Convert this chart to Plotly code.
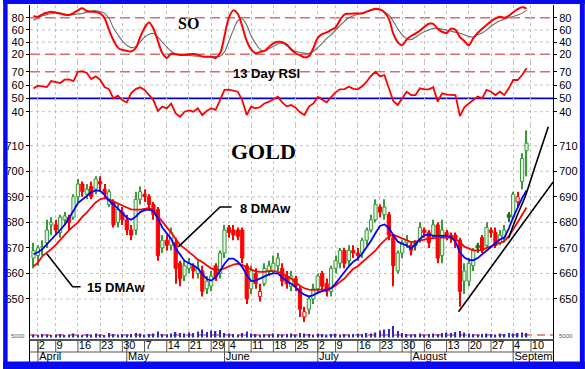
import plotly.graph_objects as go

# ---------------- data (trading-day index, 0 = Apr 2) ----------------
DAY = list(range(-1, 111))

OPEN = [666, 667, 670, 672, 679, 679, 676, 681, 682, 682, 690, 695, 691, 694, 693, 696, 693, 687, 688, 680,
        684, 681, 677, 677, 689, 691, 690, 687, 685, 670, 673, 671, 672, 664, 659, 662, 663, 660, 661, 654,
        655, 663, 660, 668, 678, 677, 677, 677, 663, 654, 660, 651, 656, 661, 661, 663, 662, 659, 655, 658,
        654, 643, 646, 650, 654, 660, 656, 653, 662, 664, 669, 665, 669, 668, 668, 673, 677, 681, 686, 683,
        683, 674, 661, 668, 672, 671, 672, 673, 677, 676, 675, 679, 667, 676, 675, 675, 673, 657, 657, 663,
        671, 674, 671, 677, 676, 672, 674, 683, 682, 688, 696, 708]
HIGH = [672, 671, 673, 681, 682, 681, 683, 684, 683, 691, 697, 696, 695, 696, 698, 698, 695, 693, 689, 687,
        686, 683, 679, 692, 694, 693, 691, 688, 686, 675, 675, 678, 674, 665, 665, 666, 664, 665, 663, 659,
        661, 664, 669, 679, 679, 679, 678, 678, 664, 663, 662, 656, 664, 665, 667, 668, 664, 661, 661, 659,
        655, 647, 651, 656, 660, 661, 658, 663, 667, 670, 670, 671, 671, 670, 674, 678, 683, 689, 687, 689,
        684, 675, 669, 673, 675, 672, 673, 680, 678, 677, 681, 680, 681, 677, 676, 676, 674, 664, 666, 670,
        672, 675, 680, 678, 678, 677, 679, 684, 692, 692, 707, 716]
LOW = [662, 663, 667, 670, 675, 675, 674, 679, 677, 681, 688, 690, 689, 689, 691, 692, 689, 686, 678, 678,
       679, 675, 673, 675, 687, 688, 685, 681, 665, 668, 669, 669, 656, 655, 657, 660, 658, 658, 651, 652,
       653, 657, 658, 666, 674, 673, 673, 664, 648, 652, 654, 649, 655, 659, 660, 661, 655, 654, 653, 653,
       643, 641, 644, 648, 652, 653, 651, 651, 660, 662, 662, 663, 666, 665, 666, 671, 676, 680, 682, 681,
       673, 655, 660, 666, 670, 667, 669, 672, 674, 670, 674, 664, 664, 673, 672, 670, 647, 652, 655, 661,
       668, 668, 670, 674, 670, 671, 672, 680, 681, 686, 693, 698]
CLOSE = [669, 670, 670.5, 677, 680, 677, 682, 682.5, 680, 690, 695, 692, 693, 690, 697, 695, 691, 692, 679, 685,
         681, 677, 675, 689, 692, 690, 687, 683, 667, 673, 671, 676, 662, 658, 663, 664, 661, 662, 653, 657,
         659, 658.5, 668, 677, 676, 675, 674.5, 666, 650, 661, 656, 653, 662, 663, 664, 666, 657, 656, 659, 655,
         646, 645, 650, 654, 659, 655, 653, 662, 665, 669, 664, 669, 668, 667, 673, 677, 681, 687, 684, 686,
         675, 663, 668, 672, 673, 669, 671, 678, 676, 672, 679, 666, 677, 675, 674, 673, 653, 661, 664, 669,
         670, 669, 678, 676, 671, 675, 677, 682, 691, 690, 705, 711]

DMA8 = [667.5, 668.3, 669.5, 671.3, 673.5, 675.3, 677.0, 679.0, 681.5, 684.5, 687.5, 689.0, 690.2, 691.8, 692.5,
        692.3, 690.8, 688.5, 687.0, 685.5, 683.7, 681.8, 681.0, 682.2, 684.0, 684.8, 685.0, 684.4, 681.5, 678.0,
        675.5, 673.5, 669.8, 667.3, 665.0, 664.0, 663.2, 662.0, 660.0, 657.8, 657.2, 658.5, 661.0, 663.8, 665.8,
        665.8, 664.6, 662.5, 659.4, 657.0, 657.2, 658.0, 658.8, 659.6, 660.0, 660.0, 658.4, 657.0, 656.0, 654.6,
        652.8, 651.7, 651.0, 651.5, 652.5, 653.2, 653.6, 654.2, 656.0, 658.3, 660.6, 662.8, 664.6, 665.8, 667.8,
        670.2, 672.8, 675.8, 678.6, 679.2, 677.8, 675.0, 672.5, 671.6, 671.0, 669.8, 671.3, 673.5, 675.0, 675.2,
        674.7, 674.7, 674.7, 674.7, 674.2, 672.5, 668.3, 666.2, 665.3, 665.1, 666.0, 667.5, 669.0, 670.6, 672.0,
        673.3, 674.0, 677.5, 682.0, 686.0, 689.5, 692.5]
DMA15 = [662.8, 664.2, 666.8, 668.0, 669.5, 671.2, 673.2, 675.0, 676.9, 678.5, 680.0, 682.2, 683.8, 685.9, 687.8,
         689.0, 689.5, 689.0, 688.3, 687.5, 686.6, 685.8, 685.1, 685.0, 685.0, 685.3, 685.6, 684.6, 682.5, 680.5,
         678.4, 676.0, 673.5, 671.2, 669.8, 668.5, 667.0, 665.4, 664.5, 663.2, 662.0, 661.4, 661.5, 662.0, 662.9,
         663.5, 663.8, 663.4, 662.3, 661.4, 660.8, 660.6, 660.6, 660.9, 660.9, 660.6, 660.0, 659.0, 658.0, 656.6,
         655.2, 654.2, 653.7, 653.6, 653.6, 653.6, 653.8, 654.3, 655.2, 656.7, 658.0, 660.0, 661.8, 662.8, 664.3,
         665.8, 667.2, 669.0, 671.2, 673.0, 674.5, 675.2, 674.5, 673.6, 673.0, 672.3, 672.5, 672.9, 673.3, 673.6,
         673.8, 674.0, 674.0, 674.0, 674.0, 673.4, 672.3, 670.5, 669.6, 669.0, 669.0, 669.2, 670.0, 670.6, 671.3,
         671.9, 672.6, 674.5, 677.0, 680.0, 683.0, 685.8]

SO_K = [83, 81.6, 85.5, 88, 89.8, 88.5, 87, 85, 84.4, 87.5, 92, 95.4, 91, 89.8, 89.5, 87, 79, 60, 43, 31,
        27, 26, 24.5, 30, 48, 63, 72, 62, 42, 22, 14, 21, 20, 19, 19, 20, 20.5, 19, 16.5, 16,
        16, 14, 21.6, 50, 80, 92, 86, 66, 42, 28, 21.6, 24, 25.5, 32, 38, 40.6, 40, 36, 28, 22,
        18.5, 15, 17, 30, 47, 53, 56, 60, 64, 76, 85, 86.5, 87, 87, 87, 90, 92.6, 94.5, 93.5, 89,
        78, 54, 40, 35, 44, 50, 54, 59, 65, 70, 70, 62, 57, 55, 62, 60, 48, 42, 35, 46,
        55, 62, 68, 74, 79, 81.6, 80, 83, 89, 94, 97, 95]
SO_D = [76, 79, 83, 85, 86.5, 88, 87.5, 86, 84.4, 85, 86, 87, 89, 91, 91.5, 90, 87, 79, 63, 52,
        42, 35, 31, 33, 40, 48, 53, 54, 48, 40, 32, 25, 21, 20, 19, 18, 17.5, 17, 16.5, 16,
        16, 16.5, 17, 24, 42, 60, 75, 78, 68, 50, 38, 28, 25, 29, 33, 37, 38, 34, 29, 25,
        23, 22, 21.5, 25, 31, 38, 46, 52, 60, 67, 74, 80, 83, 86, 88, 90, 92, 93.5, 93, 89,
        84, 74, 62, 52, 46, 44, 48, 53, 57, 60, 62.5, 62.5, 61, 59.8, 58, 56, 54.5, 52, 49, 48.5,
        52, 55, 60, 66, 71, 75, 77.5, 80, 82, 84.5, 87.5, 92]
RSI13 = [57.5, 59.5, 59, 58.5, 63, 62.5, 61.5, 64, 64.3, 63, 70, 70.5, 69, 64.5, 66.5, 64, 58.5, 56.8, 50, 52,
         48.5, 47, 54, 57, 58.3, 56.3, 52.5, 48.7, 40.5, 43.8, 42.5, 46, 38.7, 36.2, 40, 41, 40, 42.5, 37.5, 40.5,
         42.5, 41.3, 48.7, 56.3, 56.5, 55.5, 55, 48.5, 37.5, 43.8, 42.5, 43.5, 46.2, 47.5, 49.5, 51.3, 47, 44, 45, 43,
         39.5, 37.5, 43.8, 46.2, 51, 49, 47, 51, 54.5, 56.8, 57, 58.8, 57.2, 56.8, 59, 62.5, 67, 70, 66.5, 67.5,
         57.5, 48, 45, 50, 55, 52.5, 52.5, 57.5, 56.8, 56.8, 58.3, 47.5, 53.8, 52.8, 52.5, 52.5, 36.7, 43.3, 46.2, 48.7,
         51.3, 50, 56.3, 55, 52.5, 55, 52.5, 57.5, 63.8, 63.8, 67.5, 72.6]
VOLUME = [6000, 5000, 7000, 6000, 5000, 6000, 7000, 5000, 6000, 8000, 6000, 5000, 7000, 6000, 8000, 6000, 5000,
          9000, 7000, 6000, 7000,
          6000, 7000, 9000, 8000, 6000, 7000, 8000, 12000, 7000, 6000, 8000,
          11000, 9000, 8000, 10000, 9000, 12000, 16000, 11000, 14000, 13000, 15000,
          9000, 8000, 7000, 6000, 9000, 12000, 8000, 7000, 6000, 7000, 6000, 8000, 7000, 6000, 7000, 8000, 6000,
          9000, 8000,
          7000, 6000, 8000, 7000, 6000, 7000, 8000, 6000, 7000, 6000, 7000, 8000, 7000, 9000, 8000, 10000,
          14000, 16000, 17000, 23000, 13000,
          9000, 7000, 6000, 7000, 8000, 6000, 7000, 8000, 7000, 9000,
          10000, 9000, 11000, 13000, 10000,
          8000, 7000, 6000, 7000, 8000, 7000, 6000, 8000, 7000, 9000, 8000, 9000, 10000, 9000]

WEEK_IDX = [0, 4, 9, 14, 19, 24, 29, 34, 39, 43, 48, 53, 58, 63, 67, 72, 77, 82, 87, 92, 97, 102, 107, 111]
WEEK_LBL = ["2", "9", "16", "23", "30", "7", "14", "21", "29", "4", "11", "18", "25", "2", "9", "16", "23",
            "30", "6", "13", "20", "27", "4", "10"]
MONTH_IDX = [0, 20, 42, 63, 84, 107]
MONTH_LBL = ["April", "May", "June", "July", "August", "September"]

SO_TICKS = [20, 40, 60, 80]
RSI_TICKS = [40, 50, 60, 70]
PRICE_TICKS = [650, 660, 670, 680, 690, 700, 710]
SO_GRID = [40, 60]
RSI_GRID = [40, 60]
SO_BANDS = [20, 80]
RSI_BAND = 70
RSI_MID = 50
VOL_REF = 5000

# hand-drawn annotation lines (index, price)
TREND_LOW_X = [94.7, 116.0]
TREND_LOW_Y = [645.0, 695.8]
TREND_UP_X = [105.95, 107.8, 109.7, 111.9, 114.9]
TREND_UP_Y = [673.8, 682.3, 690.1, 701.8, 717.4]
CALL8_X = [43.6, 41.0, 31.6]
CALL8_Y = [686.0, 686.0, 670.4]
CALL15_X = [9.6, 7.8, 2.0]
CALL15_Y = [654.8, 654.8, 667.7]

for arr in (OPEN, HIGH, LOW, CLOSE, DMA8, DMA15, SO_K, SO_D, RSI13, VOLUME):
    assert len(arr) == len(DAY), len(arr)

# ---------------- geometry ----------------
W, H = 585, 369
ML, MR, MT, MB = 27, 32, 5, 7
PW = W - ML - MR
PH = H - MT - MB


def pxx(px):
    return (px - ML) / PW


def pxy(py):
    return (H - MB - py) / PH


D_DATE = [0, pxy(340)]
D_MAIN = [pxy(340), pxy(125)]
D_RSI = [pxy(125), pxy(62)]
D_SO = [pxy(62), 1]
XR = [-1.79, 115.96]
SO_R = [7.4, 100.8]
RSI_R = [30.0, 77.3]
PR_R = [633.95, 718.1]
VOL_R = [-5000, 425000]

GREEN = "#3a9a3a"
GREEN_FILL = "#e2f3e2"
DKGREEN = "#1e6e1e"
RED = "#ff0000"
GRID = "#c4c4c4"
FONT = "Liberation Sans"

fill, edge = [], []
for i in range(len(DAY)):
    prev = CLOSE[i - 1] if i > 0 else OPEN[i]
    up = CLOSE[i] >= prev
    hollow = CLOSE[i] > OPEN[i]
    if up and hollow:
        edge.append(GREEN); fill.append(GREEN_FILL)
    elif up:
        edge.append(DKGREEN); fill.append(DKGREEN)
    elif hollow:
        edge.append(RED); fill.append("#ffffff")
    else:
        edge.append(RED); fill.append(RED)

fig = go.Figure()

# volume
fig.add_trace(go.Bar(x=DAY, y=VOLUME, width=0.3, marker_color="#2a2ac8", marker_line_width=0,
                     yaxis="y7", xaxis="x", showlegend=False, hoverinfo="skip"))

# candles: wicks then bodies
fig.add_trace(go.Bar(x=DAY, y=[h - l for h, l in zip(HIGH, LOW)], base=LOW, width=0.24,
                     marker_color=edge, marker_line_width=0, yaxis="y3", showlegend=False,
                     hoverinfo="skip"))
fig.add_trace(go.Bar(x=DAY, y=[max(abs(c - o), 0.5) for o, c in zip(OPEN, CLOSE)],
                     base=[min(o, c) for o, c in zip(OPEN, CLOSE)], width=0.72,
                     marker_color=fill, marker_line_color=edge, marker_line_width=1,
                     yaxis="y3", showlegend=False, hoverinfo="skip"))

# moving averages
fig.add_trace(go.Scatter(x=DAY, y=DMA15, mode="lines", line=dict(color=RED, width=1.8),
                         yaxis="y3", showlegend=False, hoverinfo="skip"))
fig.add_trace(go.Scatter(x=DAY, y=DMA8, mode="lines", line=dict(color="#0000ff", width=1.8),
                         yaxis="y3", showlegend=False, hoverinfo="skip"))

# trend lines and callouts
for xs, ys, shp in ((TREND_LOW_X, TREND_LOW_Y, "linear"), (TREND_UP_X, TREND_UP_Y, "spline"),
                    (CALL8_X, CALL8_Y, "linear"), (CALL15_X, CALL15_Y, "linear")):
    fig.add_trace(go.Scatter(x=xs, y=ys, mode="lines", line=dict(color="#000000", width=1.6, shape=shp),
                             yaxis="y3", showlegend=False, hoverinfo="skip"))

# SO
fig.add_trace(go.Scatter(x=DAY, y=SO_D, mode="lines", line=dict(color="#6a6a6a", width=1.1, shape="spline"),
                         yaxis="y", showlegend=False, hoverinfo="skip"))
fig.add_trace(go.Scatter(x=DAY, y=SO_K, mode="lines", line=dict(color=RED, width=2, shape="spline"),
                         yaxis="y", showlegend=False, hoverinfo="skip"))
# RSI
fig.add_trace(go.Scatter(x=DAY, y=RSI13, mode="lines", line=dict(color=RED, width=1.8),
                         yaxis="y2", showlegend=False, hoverinfo="skip"))

# right-side label axes (invisible anchor traces)
for ya, yv in (("y4", SO_K[0]), ("y5", RSI13[0]), ("y6", CLOSE[0])):
    fig.add_trace(go.Scatter(x=[DAY[0]], y=[yv], mode="markers", marker_opacity=0, yaxis=ya,
                             showlegend=False, hoverinfo="skip"))

# date strip (subplot x2/y8)
tx, ty = [], []
for w in WEEK_IDX:
    tx += [w, w, None]; ty += [22, 10, None]
for m in MONTH_IDX:
    tx += [m, m, None]; ty += [22, 0, None]
tx += [XR[0], XR[1]]; ty += [10, 10]
fig.add_trace(go.Scatter(x=tx, y=ty, mode="lines", line=dict(color="#555555", width=1),
                         xaxis="x2", yaxis="y8", showlegend=False, hoverinfo="skip"))
fig.add_trace(go.Scatter(x=[w + 0.2 for w in WEEK_IDX], y=[16] * len(WEEK_IDX), text=WEEK_LBL,
                         mode="text", textposition="middle right", cliponaxis=True,
                         textfont=dict(family=FONT, size=11, color="#000000"),
                         xaxis="x2", yaxis="y8", showlegend=False, hoverinfo="skip"))
fig.add_trace(go.Scatter(x=[m + 0.3 for m in MONTH_IDX], y=[5] * len(MONTH_IDX), text=MONTH_LBL,
                         mode="text", textposition="middle right", cliponaxis=True,
                         textfont=dict(family=FONT, size=11, color="#000000"),
                         xaxis="x2", yaxis="y8", showlegend=False, hoverinfo="skip"))

tickfont = dict(family=FONT, size=11, color="#000000")


def yax(domain, rng, ticks, **kw):
    d = dict(domain=domain, range=rng, tickvals=ticks, ticks="outside", ticklen=3, tickcolor="#000000",
             showline=True, linecolor="#000000", linewidth=1, showgrid=False,
             zeroline=False, tickfont=tickfont, anchor="x", fixedrange=True)
    d.update(kw)
    return d


def yax_right(base, rng, ticks):
    return dict(overlaying=base, side="right", range=rng, tickvals=ticks, ticks="outside", ticklen=3,
                tickcolor="#000000", showline=True, linecolor="#000000", linewidth=1, showgrid=False,
                zeroline=False, tickfont=tickfont, anchor="x")


shapes = []
# dotted horizontal grid
for yref, vals in (("y", SO_GRID), ("y2", RSI_GRID), ("y3", PRICE_TICKS)):
    for v in vals:
        shapes.append(dict(type="line", xref="paper", x0=0, x1=1, yref=yref, y0=v, y1=v,
                           line=dict(color=GRID, width=1, dash="dot"), layer="below"))
for b in SO_BANDS:
    shapes.append(dict(type="line", xref="paper", x0=0, x1=1, yref="y", y0=b, y1=b,
                       line=dict(color="#e06a6a", width=1.5, dash="10px,5px"), layer="below"))
shapes.append(dict(type="line", xref="paper", x0=0, x1=1, yref="y2", y0=RSI_BAND, y1=RSI_BAND,
                   line=dict(color="#e06a6a", width=1.5, dash="10px,5px"), layer="below"))
shapes.append(dict(type="line", xref="paper", x0=0, x1=1, yref="y2", y0=RSI_MID, y1=RSI_MID,
                   line=dict(color="#0000cc", width=1.6), layer="below"))
shapes.append(dict(type="line", xref="paper", x0=0, x1=1, yref="y7", y0=VOL_REF, y1=VOL_REF,
                   line=dict(color="#e06a6a", width=1.3, dash="8px,5px"), layer="below"))
# blue frame
BLUE = "#0a0af0"
for x0, x1, y0, y1 in ((pxx(0), pxx(4.5), pxy(0), pxy(369)), (pxx(580), pxx(585), pxy(0), pxy(369)),
                       (pxx(0), pxx(585), pxy(0), pxy(4)), (pxx(0), pxx(585), pxy(361.5), pxy(369))):
    shapes.append(dict(type="rect", xref="paper", yref="paper", x0=x0, x1=x1, y0=y0, y1=y1,
                       fillcolor=BLUE, line=dict(width=0), layer="above"))

annotations = [
    dict(text="<b>SO</b>", x=pxx(186), y=pxy(23), font=dict(family="Liberation Serif", size=16, color="#000000")),
    dict(text="<b>13 Day RSI</b>", x=pxx(265), y=pxy(73), font=dict(family=FONT, size=13, color="#000000")),
    dict(text="<b>GOLD</b>", x=pxx(262), y=pxy(151), font=dict(family="Liberation Serif", size=22, color="#000000")),
    dict(text="<b>8 DMAw</b>", x=pxx(236), y=pxy(208), xanchor="left",
         font=dict(family=FONT, size=13, color="#000000")),
    dict(text="<b>15 DMAw</b>", x=pxx(82), y=pxy(287), xanchor="left",
         font=dict(family=FONT, size=13, color="#000000")),
    dict(text=str(VOL_REF), x=pxx(24), y=pxy(336), xanchor="right", font=dict(family=FONT, size=6, color="#555555")),
    dict(text=str(VOL_REF), x=pxx(557), y=pxy(336), xanchor="left", font=dict(family=FONT, size=6, color="#555555")),
]
for a in annotations:
    a.setdefault("xanchor", "center")
    a.update(xref="paper", yref="paper", yanchor="middle", showarrow=False)

fig.update_layout(
    width=W, height=H, margin=dict(l=ML, r=MR, t=MT, b=MB, pad=0),
    paper_bgcolor="#ffffff", plot_bgcolor="#ffffff", barmode="overlay", showlegend=False,
    hovermode=False,
    xaxis=dict(domain=[0, 1], range=XR, anchor="y3", tickvals=WEEK_IDX, showticklabels=False, ticks="",
               showgrid=True, gridcolor=GRID, griddash="dot", gridwidth=1, showline=True,
               linecolor="#555555", zeroline=False, fixedrange=True),
    xaxis2=dict(domain=[0, 1], range=XR, anchor="y8", matches="x", showticklabels=False, ticks="",
                showgrid=False, showline=True, mirror=True, linecolor="#555555", zeroline=False),
    yaxis=yax(D_SO, SO_R, SO_TICKS),
    yaxis2=yax(D_RSI, RSI_R, RSI_TICKS),
    yaxis3=yax(D_MAIN, PR_R, PRICE_TICKS),
    yaxis4=yax_right("y", SO_R, SO_TICKS),
    yaxis5=yax_right("y2", RSI_R, RSI_TICKS),
    yaxis6=yax_right("y3", PR_R, PRICE_TICKS),
    yaxis7=dict(overlaying="y3", range=VOL_R, visible=False, anchor="x"),
    yaxis8=dict(domain=D_DATE, range=[0, 22], anchor="x2", showticklabels=False, ticks="", showgrid=False,
                showline=True, mirror=True, linecolor="#000000", zeroline=False),
    shapes=shapes, annotations=annotations,
)

fig.write_html("out.html", config={"displayModeBar": False},
               post_script="document.body.style.margin='0px';document.body.style.overflow='hidden';")
